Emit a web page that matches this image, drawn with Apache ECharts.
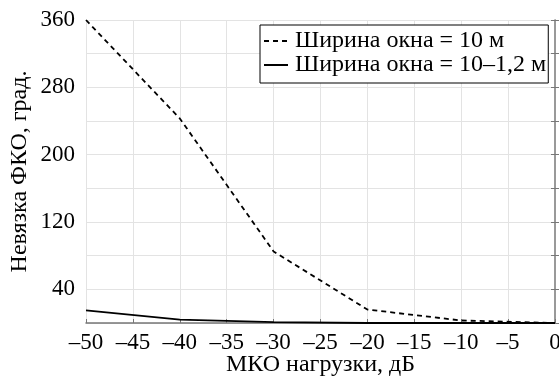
<!DOCTYPE html>
<html>
<head>
<meta charset="utf-8">
<script src="https://cdn.jsdelivr.net/npm/echarts@6/dist/echarts.min.js"></script>
<style>
  html, body { margin: 0; padding: 0; background: #fff; }
  #chart { width: 559px; height: 376px; }
</style>
</head>
<body>
<div id="chart"></div>
<script>
// МКО нагрузки, дБ
const snr = [-50, -40, -30, -20, -10, 0];
// невязка ФКО для окна 10 м
const win10 = [360, 243, 85, 16, 3, 0];
// невязка ФКО для окна 10–1,2 м
const win10to1 = [15, 4, 1, 0, 0, 0];

const names = ['Ширина окна = 10 м', 'Ширина окна = 10–1,2 м'];
const serif = 'Liberation Serif, Times New Roman, serif';

const pairs = (ys) => snr.map((x, i) => [x, ys[i]]);
const dashFmt = (v) => (v < 0 ? '–' + (-v) : String(v));

const chart = echarts.init(document.getElementById('chart'));
chart.setOption({
  animation: false,
  grid: { left: 86, right: 4, top: 20, bottom: 53, containLabel: false, outerBoundsMode: 'none' },
  legend: {
    orient: 'vertical',
    left: 260,
    top: 25,
    padding: [4, 2, 6, 3],
    itemGap: 0,
    itemWidth: 24,
    itemHeight: 14,
    borderColor: '#000',
    borderWidth: 1,
    borderRadius: 0,
    backgroundColor: '#fff',
    itemStyle: { opacity: 0 },
    textStyle: { fontFamily: serif, fontSize: 24, color: '#000', lineHeight: 23, padding: [0, 0, 0, 2] },
    data: names
  },
  xAxis: {
    type: 'value',
    min: -50, max: 0, interval: 5,
    name: 'МКО нагрузки, дБ',
    nameLocation: 'middle',
    nameGap: 30,
    nameMoveOverlap: false,
    nameTextStyle: { fontFamily: serif, fontSize: 24, color: '#000' },
    axisLine: { lineStyle: { color: '#777', width: 1.5 } },
    axisTick: { inside: true, length: 4, lineStyle: { color: '#777' } },
    axisLabel: { fontFamily: serif, fontSize: 23, color: '#000', margin: 8, formatter: dashFmt },
    splitLine: { lineStyle: { color: '#e3e3e3', width: 1 } }
  },
  yAxis: [{
    type: 'value',
    min: 0, max: 360, interval: 40,
    name: 'Невязка ФКО, град.',
    nameLocation: 'middle',
    nameGap: 54,
    nameMoveOverlap: false,
    nameTextStyle: { fontFamily: serif, fontSize: 24, color: '#000' },
    axisLine: { show: true, lineStyle: { color: '#777', width: 1.5 } },
    axisTick: { show: true, inside: true, length: 4, lineStyle: { color: '#777' } },
    axisLabel: {
      fontFamily: serif, fontSize: 23, color: '#000', margin: 11,
      formatter: (v) => ((v - 40) % 80 === 0 ? String(v) : '')
    },
    splitLine: { lineStyle: { color: '#e3e3e3', width: 1 } }
  }, {
    type: 'value',
    min: 0, max: 360, interval: 40,
    position: 'right',
    axisLine: { show: true, lineStyle: { color: '#999', width: 1 } },
    axisTick: { show: true, inside: true, length: 4, lineStyle: { color: '#777' } },
    axisLabel: { show: false },
    splitLine: { show: false }
  }],
  series: [{
    name: names[0],
    type: 'line',
    data: pairs(win10),
    symbol: 'none',
    lineStyle: { color: '#000', width: 1.8, type: [5, 4] },
    itemStyle: { color: '#000' }
  }, {
    name: names[1],
    type: 'line',
    data: pairs(win10to1),
    symbol: 'none',
    lineStyle: { color: '#000', width: 1.8, type: 'solid' },
    itemStyle: { color: '#000' }
  }]
});
</script>
</body>
</html>
